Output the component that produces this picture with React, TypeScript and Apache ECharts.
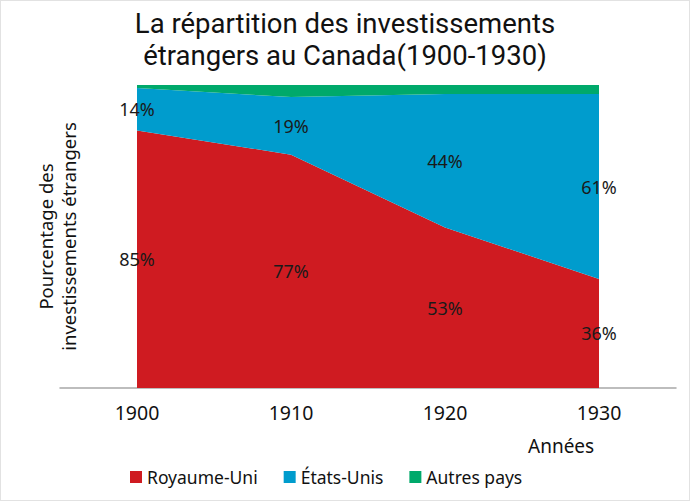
import React, { useEffect, useRef } from "react";
import * as echarts from "echarts";

const years = ["1900", "1910", "1920", "1930"];
const royaumeUni = [85, 77, 53, 36];
const etatsUnis = [14, 19, 44, 61];
const autresPays = [1, 4, 3, 3];
const titleLines = ["La répartition des investissements", "étrangers au Canada(1900-1930)"];

const FONT = "'Noto Sans', 'Open Sans', sans-serif";
const TITLE_FONT = "Roboto, 'Noto Sans', sans-serif";
const RED = "#cf1b21";
const BLUE = "#009ccd";
const GREEN = "#00a96b";

export default function App() {
  const ref = useRef<HTMLDivElement>(null);
  useEffect(() => {
    if (!ref.current) return;
    const chart = echarts.init(ref.current, null, { renderer: "svg" });

    const labelData: any[] = [];
    royaumeUni.forEach((v, i) => labelData.push([i, v / 2, v]));
    etatsUnis.forEach((v, i) => labelData.push([i, royaumeUni[i] + v / 2, v]));

    const titleStyle = {
      fontFamily: TITLE_FONT,
      fontSize: 27.5,
      fontWeight: "normal",
      color: "#111",
      lineHeight: 30,
    };

    chart.setOption({
      animation: false,
      backgroundColor: "#ffffff",
      title: titleLines.map((t, i) => ({
        text: t,
        left: "center",
        top: 7 + i * 32,
        padding: 0,
        textStyle: titleStyle,
      })),
      legend: {
        data: ["Royaume-Uni", "États-Unis", "Autres pays"],
        left: 124,
        top: 462,
        itemWidth: 12,
        itemHeight: 12,
        itemGap: 26,
        icon: "rect",
        textStyle: { fontFamily: FONT, fontSize: 17.5, color: "#111" },
      },
      grid: { left: 59, right: 13, top: 84, bottom: 112, outerBoundsMode: "none" },
      xAxis: {
        type: "category",
        data: years,
        boundaryGap: true,
        axisLine: { lineStyle: { color: "#a8a8a8", width: 1.5 } },
        axisTick: { show: false },
        axisLabel: { fontFamily: FONT, fontSize: 19.5, color: "#111", margin: 14 },
      },
      yAxis: {
        type: "value",
        min: 0,
        max: 100,
        axisLine: { show: false },
        axisTick: { show: false },
        axisLabel: { show: false },
        splitLine: { show: false },
        name: "Pourcentage des\ninvestissements étrangers",
        nameLocation: "middle",
        nameGap: -20,
        nameRotate: 90,
        nameTextStyle: { fontFamily: FONT, fontSize: 18.5, color: "#111", lineHeight: 23 },
      },
      graphic: [
        {
          type: "text",
          left: 527,
          top: 435,
          style: { text: "Années", fontFamily: FONT, fontSize: 19, fill: "#111" },
        },
      ],
      series: [
        {
          name: "Royaume-Uni",
          type: "line",
          stack: "total",
          data: royaumeUni,
          symbol: "none",
          lineStyle: { width: 0 },
          itemStyle: { color: RED },
          areaStyle: { color: RED, opacity: 1 },
        },
        {
          name: "États-Unis",
          type: "line",
          stack: "total",
          data: etatsUnis,
          symbol: "none",
          lineStyle: { width: 0 },
          itemStyle: { color: BLUE },
          areaStyle: { color: BLUE, opacity: 1 },
        },
        {
          name: "Autres pays",
          type: "line",
          stack: "total",
          data: autresPays,
          symbol: "none",
          lineStyle: { width: 0 },
          itemStyle: { color: GREEN },
          areaStyle: { color: GREEN, opacity: 1 },
        },
        {
          name: "labels",
          type: "custom",
          data: labelData,
          encode: { x: 0, y: 1 },
          silent: true,
          z: 10,
          renderItem: (params: any, api: any) => {
            const pt = api.coord([api.value(0), api.value(1)]);
            return {
              type: "text",
              x: pt[0],
              y: pt[1],
              style: {
                text: api.value(2) + "%",
                align: "center",
                verticalAlign: "middle",
                fontFamily: FONT,
                fontSize: 18,
                fill: "#1a1a1a",
              },
            };
          },
        },
      ],
    });
    return () => chart.dispose();
  }, []);
  return (
    <div
      ref={ref}
      style={{
        position: "fixed",
        left: 0,
        top: 0,
        width: 690,
        height: 501,
        boxSizing: "border-box",
        border: "1px solid #e2e2e2",
      }}
    />
  );
}
